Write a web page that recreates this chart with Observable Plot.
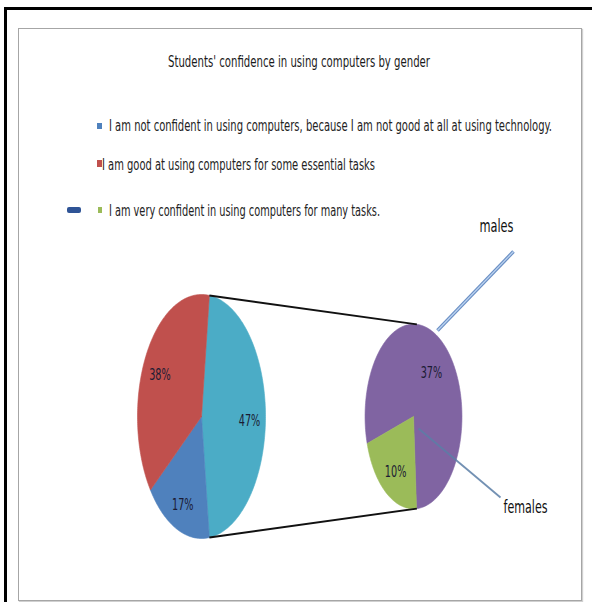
<!DOCTYPE html>
<html>
<head>
<meta charset="utf-8">
<script src="https://cdn.jsdelivr.net/npm/d3@7"></script>
<script src="https://cdn.jsdelivr.net/npm/@observablehq/plot@0.6"></script>
<style>
  html, body { margin: 0; padding: 0; background: #fff; }
  body { width: 592px; height: 602px; position: relative; overflow: hidden;
         font-family: "DejaVu Sans Condensed", "Liberation Sans Narrow", "DejaVu Sans", sans-serif; }
  #outer { position: absolute; left: 4px; top: 7px; width: 600px; height: 620px;
           border-left: 3px solid #000; border-top: 3px solid #000; }
  #frame { position: absolute; left: 18px; top: 28px; width: 562px; height: 571px;
           border: 1px solid #a6a6a6; box-shadow: 1px 1px 1px #d0d0d0; }
  #title { position: absolute; left: 168px; top: 52px; font-size: 16.5px; color: #1a1a1a;
           white-space: nowrap; transform-origin: 0 0; }
  .leg { position: absolute; font-size: 16px; color: #222; white-space: nowrap; transform-origin: 0 0; }
  .sw { position: absolute; }
  #chart { position: absolute; left: 18px; top: 230px; }
</style>
</head>
<body>
<div id="outer"></div>
<div id="frame"></div>
<div id="title"></div>
<div id="legend"></div>
<div id="chart"></div>
<script>
// ---- data ----
const titleText = "Students' confidence  in using computers by gender";
const mainLabels = [
  "I am very confident in using computers for many tasks.",
  "I am not confident in using computers, because I am not good at all at using technology.",
  "I am good at using computers for some essential tasks"
];
const mainValues = [47, 17, 38];
const mainColors = ["#4BACC6", "#4F81BD", "#C0504D"];
const subLabels = ["males", "females"];
const subValues = [37, 10];
const subColors = ["#8064A2", "#9BBB59"];
const legendOrder = [1, 2, 0];
const legendColors = ["#4F81BD", "#C0504D", "#9BBB59"];

function fitWidth(el, target) {
  const w = el.getBoundingClientRect().width;
  if (w > 0) el.style.transform = `scaleX(${target / w})`;
}

// ---- title & legend ----
const titleEl = document.getElementById("title");
titleEl.textContent = titleText;
fitWidth(titleEl, 262);
const legend = document.getElementById("legend");
const legRows = [
  {y: 115.5, sx: 97, sy: 123, sw: 5, sh: 6, tx: 109, w: 443},
  {y: 154.5, sx: 97, sy: 160, sw: 5, sh: 7, tx: 102, w: 273},
  {y: 201,   sx: 98, sy: 207, sw: 4, sh: 6, tx: 109, w: 271}
];
legendOrder.forEach((k, i) => {
  const r = legRows[i];
  const sw = document.createElement("div");
  sw.className = "sw";
  sw.style.left = r.sx + "px"; sw.style.top = r.sy + "px";
  sw.style.width = r.sw + "px"; sw.style.height = r.sh + "px";
  sw.style.background = legendColors[i];
  legend.appendChild(sw);
  const t = document.createElement("div");
  t.className = "leg";
  t.style.left = r.tx + "px"; t.style.top = r.y + "px";
  t.textContent = mainLabels[k];
  legend.appendChild(t);
  fitWidth(t, r.w);
});
const stray = document.createElement("div");
stray.style.cssText = "position:absolute;left:67px;top:207px;width:14px;height:6px;border-radius:2px;background:#2F5496;";
legend.appendChild(stray);

// ---- pie geometry (data units: main pie radius = 1) ----
const W = 562, H = 370;
const pxX = 64, pxY = 122;           // pixels per unit
const cx0 = 183 / pxX, cy0 = 186 / pxY;
const r2 = 0.757;                    // second pie radius
const c2x = 212 / pxX;               // second pie centre offset
const deg = Math.PI / 180;

const mainTotal = d3.sum(mainValues);
const mainSpan = mainValues[0] / mainTotal * 360;
const mainStart = 90 - mainSpan / 2;
const mainPie = d3.pie().sort(null).startAngle(mainStart * deg).endAngle((mainStart + 360) * deg)(mainValues);
const subTotal = d3.sum(subValues);
const subStart = 176.4 - subValues[0] / subTotal * 360;
const subPie = d3.pie().sort(null).startAngle(subStart * deg).endAngle((subStart + 360) * deg)(subValues);

function slicePoly(arc, cx, r, id, color) {
  const pts = [{id, color, x: cx, y: 0}];
  const n = Math.max(8, Math.ceil((arc.endAngle - arc.startAngle) / deg));
  for (let i = 0; i <= n; i++) {
    const a = arc.startAngle + (arc.endAngle - arc.startAngle) * i / n;
    pts.push({id, color, x: cx + r * Math.sin(a), y: r * Math.cos(a)});
  }
  pts.push({id, color, x: cx, y: 0});
  return pts;
}
const slices = [
  ...mainPie.flatMap((a, i) => slicePoly(a, 0, 1, "m" + i, mainColors[i])),
  ...subPie.flatMap((a, i) => slicePoly(a, c2x, r2, "s" + i, subColors[i]))
];

function labelPos(arc, cx, r, k, dy) {
  const a = (arc.startAngle + arc.endAngle) / 2;
  return {x: cx + r * k * Math.sin(a), y: r * k * Math.cos(a), dy};
}
const pctLabels = [
  ...mainPie.map((a, i) => ({...labelPos(a, 0, 1, 0.75, 4), t: mainValues[i] + "%"})),
  ...subPie.map((a, i) => ({...labelPos(a, c2x, r2, 0.65, 6), t: subValues[i] + "%"}))
];

// connector lines between pies
const oth = mainPie[0];
const connectors = [
  {x1: Math.sin(oth.startAngle), y1: Math.cos(oth.startAngle),
   x2: c2x + r2 * Math.sin(4 * deg), y2: r2 * Math.cos(4 * deg)},
  {x1: Math.sin(oth.endAngle), y1: Math.cos(oth.endAngle),
   x2: c2x + r2 * Math.sin(176 * deg), y2: r2 * Math.cos(176 * deg)}
];

// series labels with leader lines
const leaders = [
  {x1: 236 / pxX, y1: 86 / pxY, x2: 312 / pxX, y2: 165 / pxY, tx: 295 / pxX, ty: 190 / pxY, t: subLabels[0]},
  {x1: 217 / pxX, y1: -12 / pxY, x2: 299 / pxX, y2: -81 / pxY, tx: 324 / pxX, ty: -91 / pxY, t: subLabels[1]}
];

const FONT = "DejaVu Sans Condensed, Liberation Sans Narrow, DejaVu Sans, sans-serif";
const plot = Plot.plot({
  width: W, height: H,
  margin: 0,
  x: {domain: [-cx0, (W - 183) / pxX], axis: null},
  y: {domain: [-(H - 186) / pxY, cy0], axis: null},
  style: {background: "transparent", overflow: "visible"},
  marks: [
    Plot.line(slices, {x: "x", y: "y", z: "id", fill: "color", stroke: "color", strokeWidth: 0.6, curve: "linear"}),
    Plot.link(connectors, {x1: "x1", y1: "y1", x2: "x2", y2: "y2", stroke: "#111", strokeWidth: 2}),
    Plot.link(leaders.slice(0, 1), {x1: "x1", y1: "y1", x2: "x2", y2: "y2", stroke: "#6a8fc4", strokeWidth: 3.5}),
    Plot.link(leaders.slice(0, 1), {x1: "x1", y1: "y1", x2: "x2", y2: "y2", stroke: "#bcd3f0", strokeWidth: 1.3}),
    Plot.link(leaders.slice(1), {x1: "x1", y1: "y1", x2: "x2", y2: "y2", stroke: "#5b7ea6", strokeWidth: 1.8, strokeOpacity: 0.85}),
    Plot.text(pctLabels.slice(0, 3), {x: "x", y: "y", text: "t", dy: 4, fill: "#1b1b33", fontSize: 16.5, fontFamily: FONT}),
    Plot.text(pctLabels.slice(3), {x: "x", y: "y", text: "t", dy: 6, fill: "#1b1b33", fontSize: 16.5, fontFamily: FONT}),
    Plot.text(leaders, {x: "tx", y: "ty", text: "t", fill: "#111", fontSize: 17.5, fontFamily: FONT})
  ]
});
// condense the SVG labels to the narrow widths of the original typeface
const textWidths = {"males": 34, "females": 44};
plot.querySelectorAll("text").forEach(el => {
  const s = el.textContent;
  const w = textWidths[s] ?? (s.endsWith("%") ? 21.5 : null);
  if (w) { el.setAttribute("textLength", w); el.setAttribute("lengthAdjust", "spacingAndGlyphs"); }
});
document.getElementById("chart").appendChild(plot);
</script>
</body>
</html>
